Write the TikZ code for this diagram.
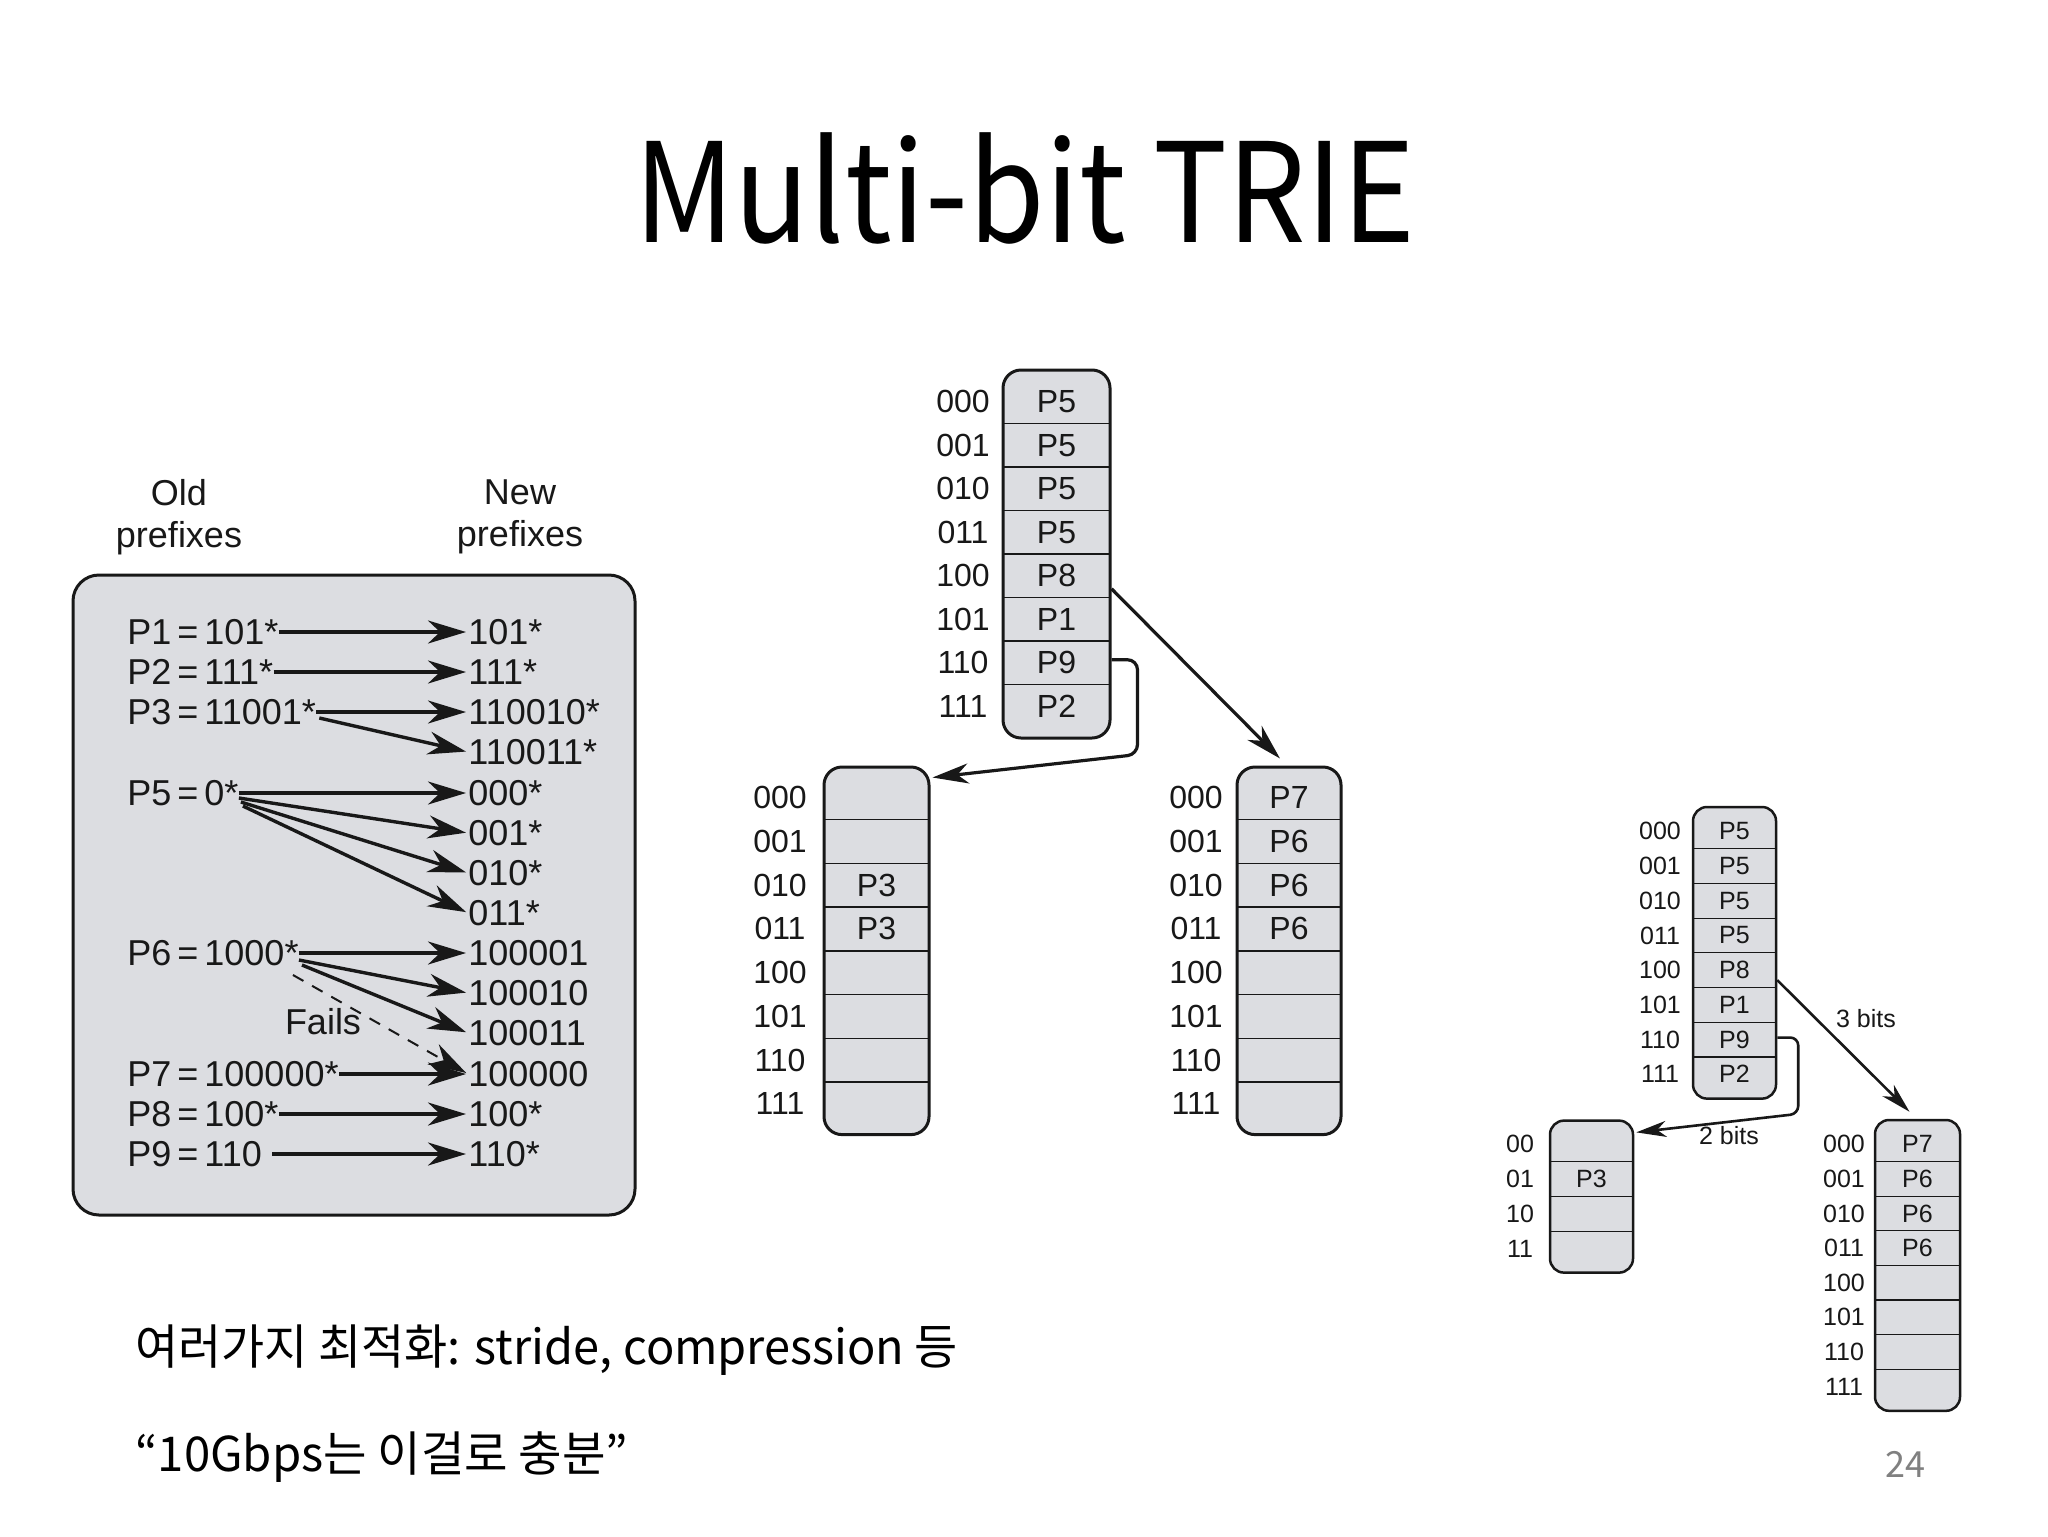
\documentclass[tikz,border=0pt]{standalone}
\usepackage{fontspec}
\setmainfont{Liberation Sans}
\newfontfamily\kr{Noto Sans CJK KR}
\usetikzlibrary{arrows.meta,calc}
\definecolor{boxgray}{RGB}{220,221,225}
\definecolor{ink}{RGB}{24,24,24}
\newcommand\mktrie[9]{%
  % #1 name, #2 x1, #3 x2, #4 cell top, #5 cell h, #6 n, #7 ext, #8 label x, #9 list
  \pgfmathsetmacro\tA{#4-#7}%
  \pgfmathsetmacro\tB{#4+#6*#5+#7}%
  \node[tbox, minimum width={(#3-#2)*0.5pt}, minimum height={(\tB-\tA)*0.5pt}] (#1) at ({(#2+#3)/2},{(\tA+\tB)/2}) {};
  \foreach \l/\t [count=\i] in {#9} {
    \pgfmathsetmacro\cy{#4+(\i-0.5)*#5}
    \node[ctxt] (#1\i) at ({(#2+#3)/2},\cy) {\t};
    \node[ctxt] (#1L\i) at (#8,\cy) {\l};
    \ifnum\i>1 \draw[divl] (#2,{#4+(\i-1)*#5}) -- (#3,{#4+(\i-1)*#5}); \fi
  }
}
\begin{document}
\begin{tikzpicture}[x=0.5pt,y=-0.5pt,
  lbox/.style={draw=ink, line width=1.5pt, fill=boxgray, rounded corners=13pt},
  dtxt/.style={font=\fontsize{18}{21}\selectfont, text=ink, inner sep=0pt},
  arr/.style={draw=ink, line width=1.7pt, -{Stealth[length=19pt,width=11.5pt,inset=6pt]}, shorten >=1pt},
  darr/.style={arr, dashed, line width=1pt, dash pattern=on 6pt off 5pt},
  marr/.style={draw=ink, line width=1.6pt, -{Stealth[length=18pt,width=10pt,inset=5.5pt]}},
  sarr/.style={draw=ink, line width=1.3pt, -{Stealth[length=15pt,width=8pt,inset=4.5pt]}},
  slbl/.style={font=\fontsize{12.5}{14}\selectfont, text=ink, inner sep=0pt}
]
\useasboundingbox (0,0) rectangle (2048,1536);
\fill[white] (0,0) rectangle (2048,1536);

% Title and slide text
\node[font=\kr\fontsize{69}{80}\selectfont, anchor=base, inner sep=0pt] (title) at (1025,242) {\scalebox{0.897}[1]{Multi-bit TRIE}};
\node[font=\kr\fontsize{24}{28}\selectfont, anchor=base west, inner sep=0pt] (t1) at (135,1364) {\scalebox{0.977}[1]{여러가지 최적화: stride, compression 등}};
\node[font=\kr\fontsize{24}{28}\selectfont, anchor=base west, inner sep=0pt] (t2) at (135,1471) {\scalebox{0.985}[1]{“10Gbps는 이걸로 충분”}};
\node[font=\kr\fontsize{18}{20}\selectfont, text=black!50, anchor=base, inner sep=0pt] (pg) at (1905,1477) {24};

% Left panel
\node[lbox, minimum width={562*0.5pt}, minimum height={640*0.5pt}] (panel) at (354,895) {};
\node[dtxt, align=center] (oldh) at (179,517) {Old\\prefixes};
\node[dtxt, align=center] (newh) at (520,517) {New\\prefixes};

\node[dtxt, anchor=west] (o1) at (127,632) {P1\,=\,101*};
\node[dtxt, anchor=west] (o2) at (127,672) {P2\,=\,111*};
\node[dtxt, anchor=west] (o3) at (127,712) {P3\,=\,11001*};
\node[dtxt, anchor=west] (o5) at (127,793) {P5\,=\,0*};
\node[dtxt, anchor=west] (o6) at (127,953) {P6\,=\,1000*};
\node[dtxt, anchor=west] (o7) at (127,1074) {P7\,=\,100000*};
\node[dtxt, anchor=west] (o8) at (127,1114) {P8\,=\,100*};
\node[dtxt, anchor=west] (o9) at (127,1154) {P9\,=\,110};

\node[dtxt, anchor=west] (n1) at (468,632) {101*};
\node[dtxt, anchor=west] (n2) at (468,672) {111*};
\node[dtxt, anchor=west] (n3) at (468,712) {110010*};
\node[dtxt, anchor=west] (n4) at (468,752) {110011*};
\node[dtxt, anchor=west] (n5) at (468,793) {000*};
\node[dtxt, anchor=west] (n6) at (468,833) {001*};
\node[dtxt, anchor=west] (n7) at (468,873) {010*};
\node[dtxt, anchor=west] (n8) at (468,913) {011*};
\node[dtxt, anchor=west] (n9) at (468,953) {100001};
\node[dtxt, anchor=west] (n10) at (468,993) {100010};
\node[dtxt, anchor=west] (n11) at (468,1033) {100011};
\node[dtxt, anchor=west] (n12) at (468,1074) {100000};
\node[dtxt, anchor=west] (n13) at (468,1114) {100*};
\node[dtxt, anchor=west] (n14) at (468,1154) {110*};
\node[dtxt] (fails) at (323,1022) {Fails};

\draw[arr] (o1.east) -- (n1.west);
\draw[arr] (o2.east) -- (n2.west);
\draw[arr] (o3.east) -- (n3.west);
\draw[arr] ($(o3.east)+(3,6)$) -- (n4.west);
\draw[arr] (o5.east) -- (n5.west);
\draw[arr] ($(o5.east)+(0,5)$) -- (n6.west);
\draw[arr] ($(o5.east)+(2,9)$) -- (n7.west);
\draw[arr] ($(o5.east)+(4,13)$) -- (n8.west);
\draw[arr] (o6.east) -- (n9.west);
\draw[arr] ($(o6.east)+(0,7)$) -- (n10.west);
\draw[arr] ($(o6.east)+(3,12)$) -- (n11.west);
\draw[darr] ($(o6.east)+(-6,22)$) -- (n12.west);
\draw[arr] (o7.east) -- (n12.west);
\draw[arr] (o8.east) -- (n13.west);
\draw[arr] ($(o9.east)+(10,0)$) -- (n14.west);

% Middle trie
\begin{scope}[tbox/.style={draw=ink, line width=1.5pt, fill=boxgray, rounded corners=9pt},
  ctxt/.style={font=\fontsize{16}{18}\selectfont, text=ink, inner sep=0pt},
  divl/.style={draw=ink, line width=0.7pt}]
\mktrie{A}{1003}{1110}{380}{43.5}{8}{10}{963}{000/P5,001/P5,010/P5,011/P5,100/P8,101/P1,110/P9,111/P2}
\mktrie{B}{824}{929}{776}{43.7}{8}{9}{780}{000/{},001/{},010/P3,011/P3,100/{},101/{},110/{},111/{}}
\mktrie{C}{1237}{1341}{776}{43.7}{8}{9}{1196}{000/P7,001/P6,010/P6,011/P6,100/{},101/{},110/{},111/{}}
\end{scope}
\draw[marr] ($(A.east |- A5)+(0,13)$) -- ($(C.north)+(-9,-7)$);
\draw[marr, rounded corners=5pt] ($(A.east |- A7)+(0,-3)$) -| ($(A.south east)+(26,15)$) -- ($(B.north east)+(2,12)$);

% Small trie
\begin{scope}[tbox/.style={draw=ink, line width=1.25pt, fill=boxgray, rounded corners=7pt},
  ctxt/.style={font=\fontsize{12.5}{14}\selectfont, text=ink, inner sep=0pt},
  divl/.style={draw=ink, line width=0.6pt}]
\mktrie{D}{1693}{1776}{814}{34.7}{8}{7}{1660}{000/P5,001/P5,010/P5,011/P5,100/P8,101/P1,110/P9,111/P2}
\mktrie{E}{1550}{1633}{1126.6}{35}{4}{6}{1520}{00/{},01/P3,10/{},11/{}}
\mktrie{F}{1875}{1960}{1127}{34.6}{8}{7}{1844}{000/P7,001/P6,010/P6,011/P6,100/{},101/{},110/{},111/{}}
\end{scope}
\draw[sarr] ($(D.east |- D5)+(0,10)$) -- ($(F.north)+(-8,-7)$);
\draw[sarr, rounded corners=4pt] ($(D.east |- D7)+(0,-2)$) -| ($(D.south east)+(21,14)$) -- ($(E.north east)+(2,13)$);
\node[slbl] (l3) at (1866,1019) {3 bits};
\node[slbl] (l2) at (1729,1136) {2 bits};
\end{tikzpicture}
\end{document}
